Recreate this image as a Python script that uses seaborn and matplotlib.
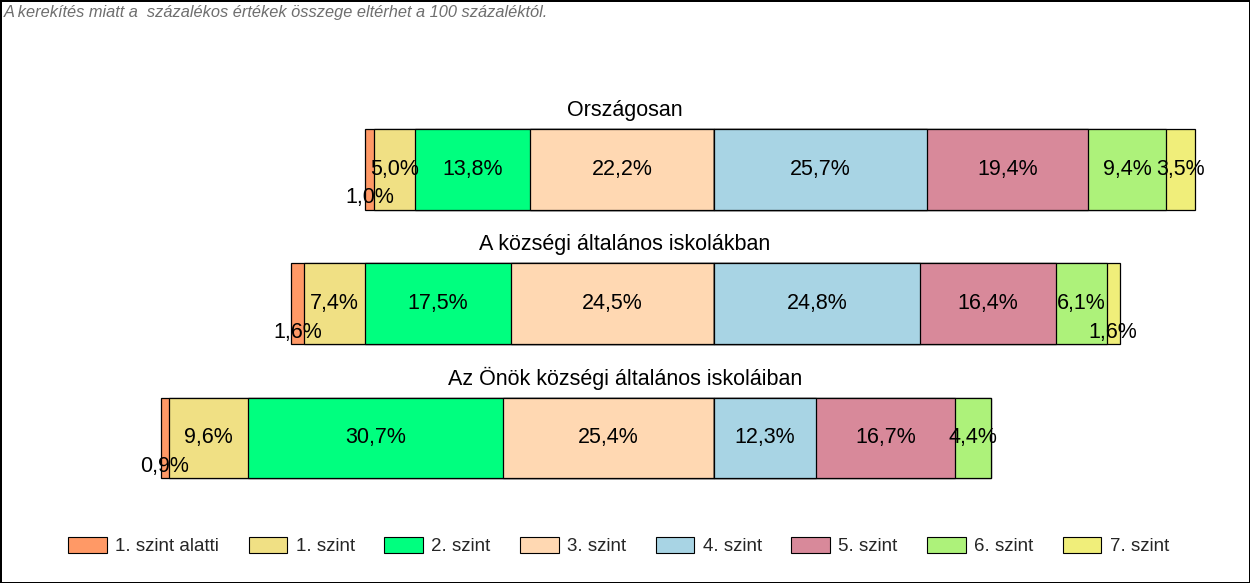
import matplotlib
matplotlib.use("Agg")
import matplotlib.pyplot as plt
import matplotlib.transforms as mtransforms
from matplotlib.patches import Patch
import seaborn as sns

# ---- data ----
groups = ["Országosan", "A községi általános iskolákban", "Az Önök községi általános iskoláiban"]
levels = ["1. szint alatti", "1. szint", "2. szint", "3. szint",
          "4. szint", "5. szint", "6. szint", "7. szint"]
orszagosan = [1.0, 5.0, 13.8, 22.2, 25.7, 19.4, 9.4, 3.5]
kozsegi = [1.6, 7.4, 17.5, 24.5, 24.8, 16.4, 6.1, 1.6]
onok = [0.9, 9.6, 30.7, 25.4, 12.3, 16.7, 4.4, 0.0]
colors = ["#FF9966", "#F0E084", "#00FF7F", "#FFD8B2",
          "#A8D4E4", "#D8899A", "#ADF27A", "#F0EE7A"]
note = "A kerekítés miatt a  százalékos értékek összege eltérhet a 100 százaléktól."

series = [orszagosan, kozsegi, onok]

sns.set_style("white")
plt.rcParams["font.family"] = ["Liberation Sans", "DejaVu Sans"]

W, H = 1250, 583
fig = plt.figure(figsize=(W / 100, H / 100), dpi=100, linewidth=2, edgecolor="black")
ax = fig.add_axes([0, 0, 1, 1])

n_left = 4
# left side (levels below 4): draw longest first so shorter overlay
for i in range(n_left):
    vals = [-sum(s[i:n_left]) for s in series]
    sns.barplot(x=vals, y=groups, orient="h", color=colors[i], saturation=1,
                edgecolor="black", linewidth=0.9, width=0.6, ax=ax)
# right side
for i in range(len(levels) - 1, n_left - 1, -1):
    vals = [sum(s[n_left:i + 1]) for s in series]
    sns.barplot(x=vals, y=groups, orient="h", color=colors[i], saturation=1,
                edgecolor="black", linewidth=0.9, width=0.6, ax=ax)

# value labels
for gi, s in enumerate(series):
    left = -sum(s[:n_left])
    for v in s:
        if v > 0:
            cx = left + v / 2
            cy = gi + (0.212 if v < 2 else 0.0)
            ax.text(cx, cy, f"{v:.1f}".replace(".", ",") + "%", ha="center",
                    va="center", fontsize=15.5, color="black")
        left += v

# group titles centered in figure
trans = mtransforms.blended_transform_factory(fig.transFigure, ax.transData)
for gi, g in enumerate(groups):
    ax.text(0.5, gi - 0.443, g, transform=trans, ha="center", va="center",
            fontsize=15.5, color="black")

# map data to pixel layout
scale = 8.3
cx0 = 714
ax.set_xlim((0 - cx0) / scale, (W - cx0) / scale)
y0, dy = 169.5, 134.25
ax.set_ylim((H - y0) / dy, (0 - y0) / dy)
ax.axis("off")

fig.text(4 / W, 1 - 13 / H, note, fontsize=11.8, style="italic", color="#6E6E6E",
         ha="left", va="center")

handles = [Patch(facecolor=c, edgecolor="black", linewidth=0.8, label=l)
           for c, l in zip(colors, levels)]
fig.legend(handles=handles, ncol=8, loc="center", bbox_to_anchor=(0.495, 1 - 546 / H),
           frameon=False, fontsize=13.5, handlelength=2.05, handleheight=1.0,
           handletextpad=0.45, columnspacing=1.58, borderaxespad=0)

fig.savefig("out.png", dpi=100, edgecolor="black")
